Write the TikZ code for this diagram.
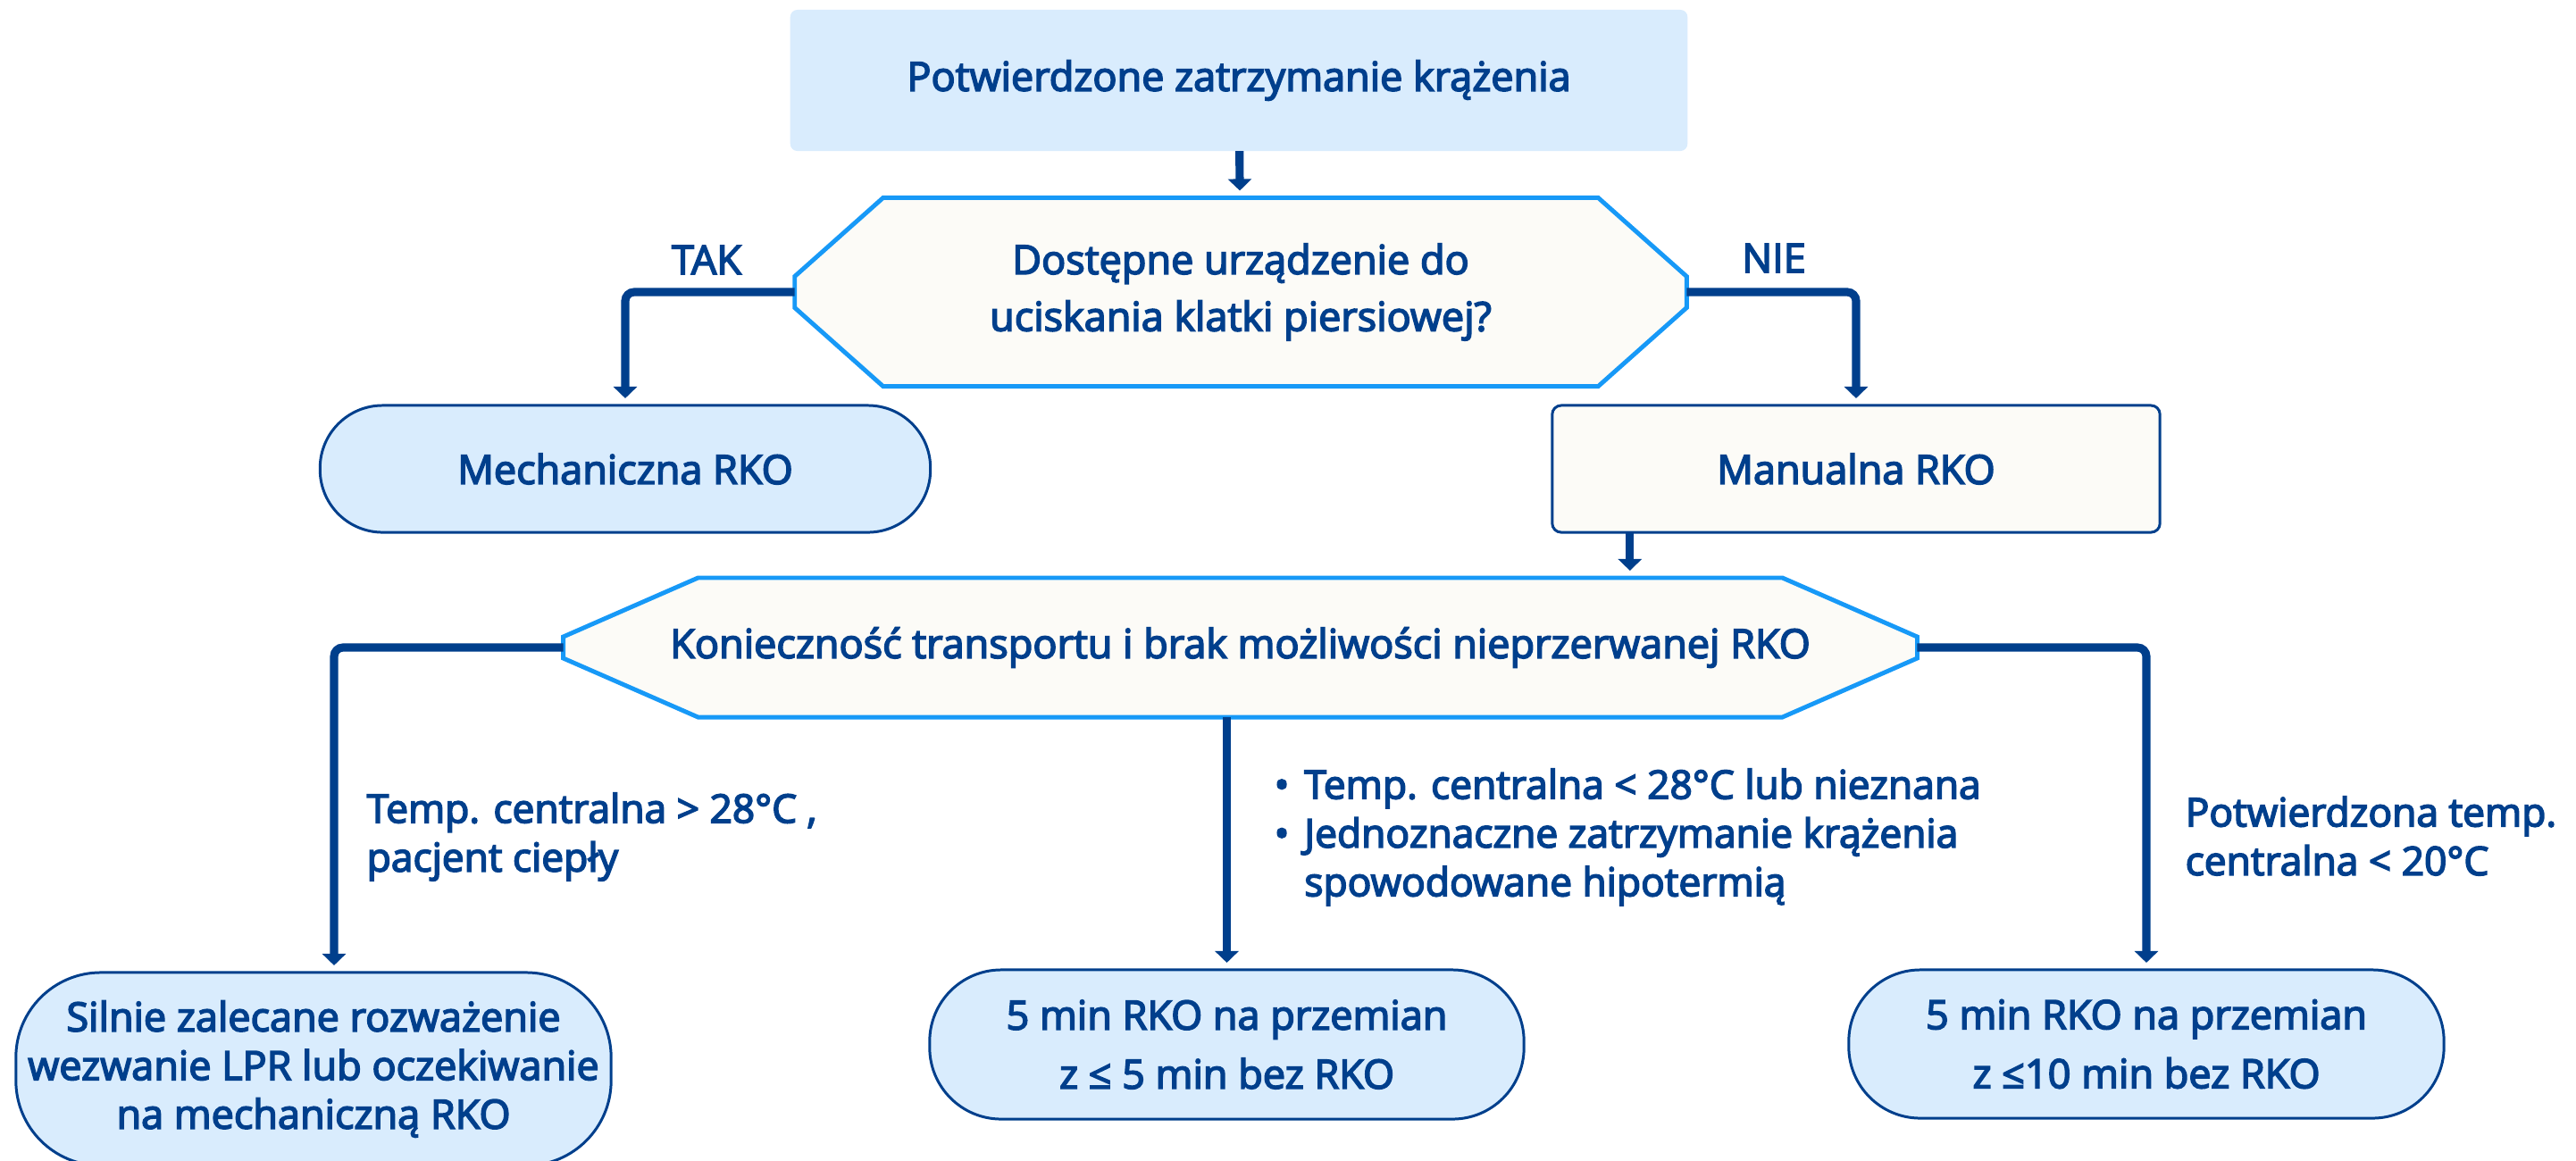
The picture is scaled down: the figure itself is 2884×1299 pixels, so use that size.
\documentclass[tikz,border=0pt]{standalone}
\usepackage{fontspec}
\setmainfont{Open Sans}
\newfontfamily\rkofont{Open Sans}[FakeBold=3.6]
\usetikzlibrary{positioning,calc}
\usetikzlibrary{arrows.meta}

\definecolor{rkoblue}{HTML}{003F8C}
\definecolor{hexblue}{HTML}{1799F7}
\definecolor{lightfill}{HTML}{D9ECFD}
\definecolor{offwhite}{HTML}{FCFBF7}

\pgfdeclarelayer{bg}
\pgfsetlayers{bg,main}

% hexagon outline behind a node: node, chamfer, half side
\newcommand{\hexoutline}[3]{%
  \begin{pgfonlayer}{bg}
  \draw[hexa] ($(#1.north west)+(#2,0)$) -- ($(#1.north east)+(-#2,0)$)
    -- ($(#1.east)+(0,-#3)$) -- ($(#1.east)+(0,#3)$)
    -- ($(#1.south east)+(-#2,0)$) -- ($(#1.south west)+(#2,0)$)
    -- ($(#1.west)+(0,#3)$) -- ($(#1.west)+(0,-#3)$) -- cycle;
  \end{pgfonlayer}}

\begin{document}
\begin{tikzpicture}
[x=0.01cm,y=-0.01cm,
   font=\rkofont\fontsize{12.8}{15.5}\selectfont, text=rkoblue,
   every node/.style={outer sep=0pt},
   startbox/.style={fill=lightfill, rounded corners=0.08cm, minimum width=10.04cm, minimum height=1.58cm},
   qbox/.style={align=center},
   hexa/.style={draw=hexblue, line width=1.4pt, fill=offwhite},
   stadium/.style={draw=rkoblue, line width=0.85pt, fill=lightfill, align=center, rounded corners=#1},
   manbox/.style={draw=rkoblue, line width=0.85pt, fill=offwhite, rounded corners=0.1cm,
     minimum width=6.8cm, minimum height=1.42cm},
   conn/.style={draw=rkoblue, line width=2.6pt, rounded corners=0.1cm,
     -{Triangle[width=0.26cm,length=0.13cm]}, shorten >=0.08cm},
   lbl/.style={align=left, anchor=west, font=\rkofont\fontsize{12.6}{15.5}\selectfont}]
\useasboundingbox (0,0) rectangle (2884,1299);

\node[startbox] (start) at (1387,90) {Potwierdzone zatrzymanie krążenia};

\node[qbox, minimum width=9.98cm, minimum height=2.11cm] (q1) at (1389,327)
  {Dostępne urządzenie do\\[2.6pt]uciskania klatki piersiowej?};
\hexoutline{q1}{99}{17.5}

\node (tak) at (791,291) {TAK};
\node (nie) at (1986,289) {NIE};

\node[stadium=0.7cm, minimum width=6.83cm, minimum height=1.42cm] (mech) at (700,525) {Mechaniczna RKO};
\node[manbox] (man) at (2078,525) {Manualna RKO};

\node[qbox, minimum width=15.15cm, minimum height=1.56cm] (q2) at (1388.5,725)
  {Konieczność transportu i brak możliwości nieprzerwanej RKO};
\hexoutline{q2}{151}{12}

\node[lbl] (c1) at (399,937) {Temp. centralna > 28°C ,\\pacjent ciepły};
\node[lbl] (c2) at (1415,938)
  {\begin{tabular}{@{}l@{\hspace{0.17cm}}l@{}}
   • & Temp. centralna < 28°C lub nieznana\\
   • & Jednoznaczne zatrzymanie krążenia\\
     & spowodowane hipotermią
   \end{tabular}};
\node[lbl] (c3) at (2435,936) {Potwierdzona temp.\\centralna < 20°C};

\node[stadium=0.95cm, minimum width=6.66cm, minimum height=2.16cm] (out1) at (351,1197)
  {Silnie zalecane rozważenie\\wezwanie LPR lub oczekiwanie\\na mechaniczną RKO};
\node[stadium=0.8cm, minimum width=6.65cm, minimum height=1.67cm] (out2) at (1373.5,1169.5)
  {5 min RKO na przemian\\[3.3pt]z ≤ 5 min bez RKO};
\node[stadium=0.8cm, minimum width=6.66cm, minimum height=1.66cm] (out3) at (2403,1169)
  {5 min RKO na przemian\\[3.3pt]z ≤10 min bez RKO};

\draw[conn] (start) -- (q1);
\draw[conn] (q1.west) -| (mech.north);
\draw[conn] (q1.east) -| (man.north);
\coordinate (mdown) at ($(man.south west)+(87,0)$);
\draw[conn] (mdown) -- (mdown |- q2.north);
\draw[conn] (q2.west) -| ([xshift=0.23cm]out1.north);
\draw[conn] (q2.south -| out2.north) -- (out2.north);
\draw[conn] (q2.east) -| (out3.north);

\end{tikzpicture}
\end{document}
